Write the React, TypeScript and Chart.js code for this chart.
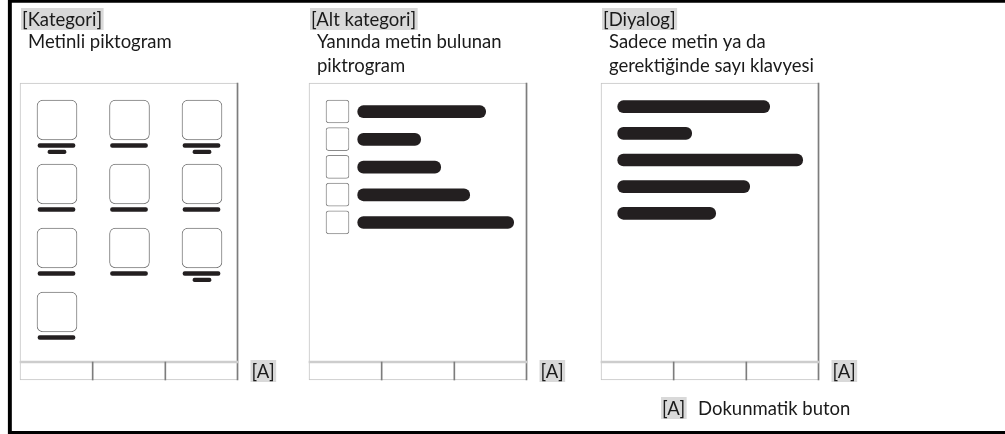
import React, { useEffect, useRef } from 'react';
import { Chart, registerables } from 'chart.js';

Chart.register(...registerables);

// ---- data ----
const panelTitles = ['[Kategori]', '[Alt kategori]', '[Diyalog]'];
const panelSubtitles = [
  ['Metinli piktogram'],
  ['Yanında metin bulunan', 'piktrogram'],
  ['Sadece metin ya da', 'gerektiğinde sayı klavyesi'],
];
const pictogramLabelLines = [2, 1, 2, 1, 1, 1, 1, 1, 2, 1];
const listBarLengths = [128, 63, 83, 112, 156];
const dialogBarLengths = [152, 74, 185, 132, 98];
const footerButtonCount = 3;
const buttonMarker = '[A]';
const legendText = 'Dokunmatik buton';

// ---- layout (pixel space == scale space) ----
const W = 1005;
const H = 434;
const PANEL_X = [20, 309, 601];
const PANEL_W = 218;
const PANEL_TOP = 83;
const PANEL_BOTTOM = 380;
const FOOTER_H = 18;
const FONT = '18.5px Lato';
const INK = '#231f20';

function buildDatasets() {
  const panelMid = (PANEL_TOP + PANEL_BOTTOM) / 2;
  const panelH = PANEL_BOTTOM - PANEL_TOP;
  const panels = PANEL_X.map((px) => ({ x: [px, px + PANEL_W], y: panelMid }));
  const rightEdges = PANEL_X.map((px) => ({ x: [px + PANEL_W - 1, px + PANEL_W], y: panelMid }));
  const footerLines = PANEL_X.map((px) => ({ x: [px, px + PANEL_W], y: PANEL_BOTTOM - FOOTER_H }));
  const dividers: any[] = [];
  PANEL_X.forEach((px) => {
    for (let k = 1; k < footerButtonCount; k++) {
      const cx = px + (k * PANEL_W) / footerButtonCount;
      dividers.push({ x: [cx - 0.5, cx + 0.5], y: PANEL_BOTTOM - FOOTER_H / 2 });
    }
  });

  // pictogram grid (panel 1)
  const icons: any[] = [];
  const mainLabels: any[] = [];
  const subLabels: any[] = [];
  const ICON = 40;
  pictogramLabelLines.forEach((lines, i) => {
    const col = i % 3;
    const row = Math.floor(i / 3);
    const ix = PANEL_X[0] + 17 + col * 72.5;
    const iy = 100 + row * 64;
    icons.push({ x: [ix, ix + ICON], y: iy + ICON / 2 });
    mainLabels.push({ x: [ix + 1, ix + ICON - 2], y: iy + ICON + 5.5 });
    if (lines > 1) subLabels.push({ x: [ix + 11, ix + 29], y: iy + ICON + 11.8 });
  });

  // list (panel 2)
  const boxes: any[] = [];
  const listBars: any[] = [];
  listBarLengths.forEach((len, i) => {
    const top = 100 + i * 27.7;
    const bx = PANEL_X[1] + 17;
    boxes.push({ x: [bx, bx + 23], y: top + 11.5 });
    const sx = PANEL_X[1] + 48.7;
    listBars.push({ x: [sx, sx + len], y: top + 11.7 });
  });

  // dialog (panel 3)
  const dialogBars = dialogBarLengths.map((len, i) => {
    const sx = PANEL_X[2] + 16.7;
    return { x: [sx, sx + len], y: 106.7 + i * 26.65 };
  });

  const set = (data: any[], thickness: number, bg: string, border: string, bw: number, radius: number, order: number) => ({
    data,
    barThickness: thickness,
    backgroundColor: bg,
    borderColor: border,
    borderWidth: bw,
    borderRadius: radius,
    borderSkipped: false,
    grouped: false,
    clip: false,
    order,
  });

  return [
    set([{ x: [8, 1030], y: 216.8 }], 436, 'rgba(0,0,0,0)', '#000000', 3.5, 0, 20),
    set(panels, panelH, '#ffffff', '#c4c4c4', 1, 0, 19),
    set(rightEdges, panelH, '#7d7d7d', '#7d7d7d', 0, 0, 18),
    set(footerLines, 2, '#cdcdcd', '#cdcdcd', 0, 0, 17),
    set(dividers, FOOTER_H, '#7d7d7d', '#7d7d7d', 0, 0, 16),
    set(icons, ICON, '#ffffff', '#7a7a7a', 1, 6, 15),
    set(mainLabels, 4, INK, INK, 0, 2, 14),
    set(subLabels, 3.5, INK, INK, 0, 1.75, 13),
    set(boxes, 23, '#ffffff', '#8a8a8a', 1, 3, 12),
    set(listBars, 12, INK, INK, 0, 6, 11),
    set(dialogBars, 12, INK, INK, 0, 6, 10),
  ];
}

const textPlugin = {
  id: 'diagramTexts',
  afterDraw(chart: any) {
    const { ctx } = chart;
    const xs = chart.scales.x;
    const ys = chart.scales.y;
    const X = (v: number) => xs.getPixelForValue(v);
    const Y = (v: number) => ys.getPixelForValue(v);
    ctx.save();
    ctx.font = FONT;
    ctx.textBaseline = 'alphabetic';
    ctx.textAlign = 'left';
    const tag = (text: string, left: number, base: number) => {
      const w = ctx.measureText(text).width;
      ctx.fillStyle = '#d9d9d9';
      ctx.fillRect(X(left) - 1, Y(base) - 18, w + 2.5, 22);
      ctx.fillStyle = '#1a1a1a';
      ctx.fillText(text, X(left), Y(base));
    };
    const plain = (text: string, left: number, base: number) => {
      ctx.fillStyle = '#1a1a1a';
      ctx.fillText(text, X(left), Y(base));
    };
    panelTitles.forEach((t, i) => {
      const px = PANEL_X[i];
      tag(t, px + 2, 26);
      panelSubtitles[i].forEach((line, j) => plain(line, px + 8, 48 + j * 23.5));
      tag(buttonMarker, px + PANEL_W + 13.5, 378);
    });
    tag(buttonMarker, 662, 415);
    plain(legendText, 698, 415);
    ctx.restore();
  },
};

export default function App() {
  const ref = useRef<HTMLCanvasElement | null>(null);
  useEffect(() => {
    if (!ref.current) return;
    const chart = new Chart(ref.current, {
      type: 'bar',
      data: { datasets: buildDatasets() as any },
      options: {
        indexAxis: 'y',
        animation: false,
        responsive: false,
        events: [],
        layout: { padding: 0 },
        scales: {
          x: { type: 'linear', min: 0, max: W, display: false, stacked: false, offset: false, grid: { offset: false } },
          y: { type: 'linear', min: 0, max: H, reverse: true, display: false, offset: false, grid: { offset: false } },
        },
        plugins: { legend: { display: false }, tooltip: { enabled: false } },
      } as any,
      plugins: [textPlugin],
    });
    return () => chart.destroy();
  }, []);
  return (
    <div style={{ position: 'fixed', left: 0, top: 0, width: W, height: H, background: '#ffffff' }}>
      <canvas ref={ref} width={W} height={H} style={{ display: 'block' }} />
    </div>
  );
}
